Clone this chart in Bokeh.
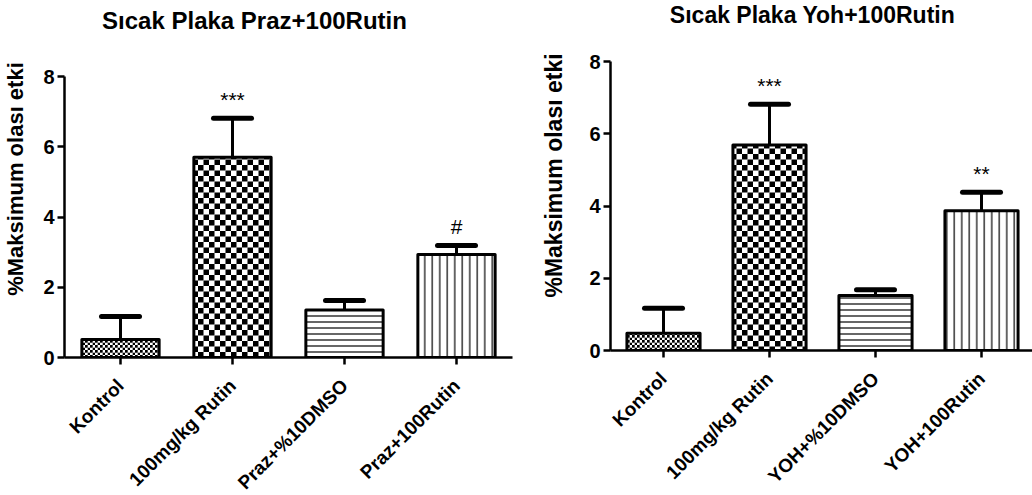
import base64
from bokeh.plotting import figure
from bokeh.models import (ColumnDataSource, FactorRange, Range1d, FixedTicker,
                          Whisker, TeeHead, ImageURLTexture, Label)
from bokeh.embed import file_html
from bokeh.resources import INLINE
from bokeh.core.properties import value

# ---------------- data ----------------
y_ticks = [0, 2, 4, 6, 8]

title_left = "Sıcak Plaka Praz+100Rutin"
cats_left = ["Kontrol", "100mg/kg Rutin", "Praz+%10DMSO", "Praz+100Rutin"]
means_left = [0.51, 5.70, 1.35, 2.93]
sem_left = [0.66, 1.11, 0.27, 0.26]
sig_left = ["", "***", "", "#"]

title_right = "Sıcak Plaka Yoh+100Rutin"
cats_right = ["Kontrol", "100mg/kg Rutin", "YOH+%10DMSO", "YOH+100Rutin"]
means_right = [0.48, 5.69, 1.52, 3.87]
sem_right = [0.69, 1.13, 0.16, 0.51]
sig_right = ["", "***", "", "**"]

y_label = "%Maksimum olası etki"

# ---------------- styles ----------------
FONT = "Liberation Sans"
patterns = ["small_checker", "big_checker", "horizontal_line", "vertical_line"]
pattern_scales = [5.4, 11, 6, 7.5]


def svg_checker_url(n):
    h = n / 2
    svg = (f'<svg xmlns="http://www.w3.org/2000/svg" width="{n}" height="{n}">'
           f'<rect width="{n}" height="{n}" fill="white"/>'
           f'<rect x="0" y="0" width="{h}" height="{h}" fill="black"/>'
           f'<rect x="{h}" y="{h}" width="{h}" height="{h}" fill="black"/></svg>')
    return "data:image/svg+xml;base64," + base64.b64encode(svg.encode()).decode()


def make_panel(cats, means, sems, sigs, title, frame_w, plot_h, px_per_unit,
               b_left, b_right, label_size, label_standoff, title_size,
               title_dx, title_base):
    """plot_h: pixel position of y=0 from the top; px_per_unit: y scale;
    title_dx: title centre measured from the frame's left edge (px)."""
    upper = [m + s for m, s in zip(means, sems)]
    sig_y = [u + 0.2 for u in upper]
    src = ColumnDataSource(dict(x=cats, mean=means, upper=upper, sig=sigs,
                                sig_y=sig_y, pat=patterns, sc=pattern_scales))
    y_end = plot_h / px_per_unit
    p = figure(x_range=FactorRange(*cats), y_range=Range1d(0, y_end),
               frame_width=frame_w, frame_height=plot_h,
               output_backend="svg", toolbar_location=None,
               min_border_left=b_left, min_border_right=b_right,
               min_border_top=0, min_border_bottom=100)
    p.outline_line_color = None
    p.grid.visible = False
    p.background_fill_color = "white"
    p.border_fill_color = "white"

    small = ImageURLTexture(url=svg_checker_url(5.4), repetition="repeat")
    big = ImageURLTexture(url=svg_checker_url(11), repetition="repeat")

    p.vbar(x="x", top="mean", bottom=0, width=0.69, source=src,
           fill_color="white", line_color="black", line_width=3,
           line_join="round",
           hatch_pattern="pat", hatch_scale="sc", hatch_color="black",
           hatch_weight=1.2,
           hatch_extra={"small_checker": small, "big_checker": big})

    w = Whisker(source=src, base="x", upper="upper", lower="mean",
                dimension="height", line_width=3, line_color="black",
                upper_head=TeeHead(size=38, line_width=5, line_color="black",
                                   line_cap="round"),
                lower_head=None)
    p.add_layout(w)

    p.text(x="x", y="sig_y", text="sig", source=src,
           text_font=value(FONT), text_font_size="21px",
           text_align="center", text_baseline="bottom", text_color="black")

    for ax in (p.xaxis[0], p.yaxis[0]):
        ax.axis_line_width = 2.5
        ax.axis_line_color = "black"
        ax.major_tick_line_width = 2.5
        ax.major_tick_line_color = "black"
        ax.major_tick_out = 7
        ax.major_tick_in = 0
        ax.minor_tick_line_color = None
        ax.major_label_text_font = FONT
        ax.major_label_text_font_style = "bold"
        ax.major_label_text_color = "black"

    p.yaxis.ticker = FixedTicker(ticks=y_ticks)
    p.yaxis.bounds = (y_ticks[0], y_ticks[-1])
    p.yaxis.major_label_text_font_size = "20px"
    p.yaxis.major_label_standoff = 3
    p.yaxis.axis_label = y_label
    p.yaxis.axis_label_text_font = FONT
    p.yaxis.axis_label_text_font_style = "bold"
    p.yaxis.axis_label_text_font_size = label_size
    p.yaxis.axis_label_text_color = "black"
    p.yaxis.axis_label_standoff = label_standoff

    p.xaxis.major_label_orientation = 0.785398
    p.xaxis.major_label_text_font_size = "19px"
    p.xaxis.major_label_standoff = 18

    # chart title, placed in the empty band above the y axis
    px_per_cat = frame_w / len(cats)
    t = Label(x=title_dx / px_per_cat,
              y=(plot_h - title_base) / px_per_unit,
              text=title, text_font=FONT, text_font_style="bold",
              text_font_size=title_size, text_color="black",
              text_align="center", text_baseline="alphabetic")
    p.add_layout(t)
    return p


left = make_panel(cats_left, means_left, sem_left, sig_left, title_left,
                  448, 357, 35.125, 62, 10, "22px", 12, "24px", 190, 20)
right = make_panel(cats_right, means_right, sem_right, sig_right, title_right,
                   424, 350, 36.125, 88, 0, "23px", 19, "23px", 202, 14)

TEMPLATE = """
{% block postamble %}
<style>
  html, body { margin: 0 !important; padding: 0 !important; }
  body { display: flex !important; flex-direction: row; align-items: flex-start; }
</style>
{% endblock %}
"""

open("out.html", "w").write(file_html([left, right], INLINE, template=TEMPLATE))
